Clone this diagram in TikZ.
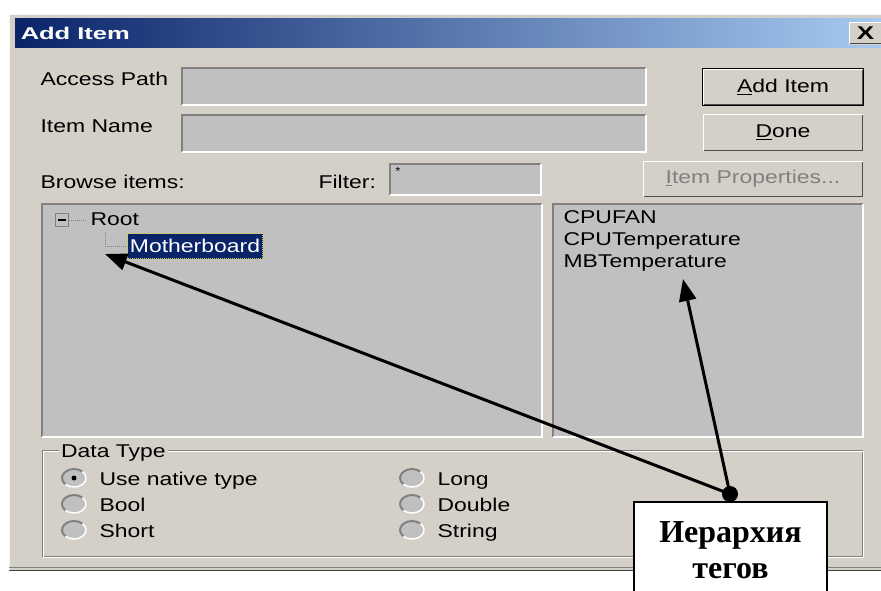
\documentclass[tikz,border=0pt]{standalone}
\usepackage{graphicx}
\usepackage{fontspec}
\setmainfont{Liberation Sans}
\newfontfamily\tagfont{Liberation Serif}
\usetikzlibrary{arrows.meta,shapes.geometric}

\definecolor{winbg}{HTML}{D4D0C8}
\definecolor{fieldgray}{HTML}{C0C0C0}
\definecolor{dkgray}{HTML}{808080}
\definecolor{navy}{HTML}{0A246A}
\definecolor{titleR}{HTML}{A6CAF0}
\newcommand{\wide}[1]{\scalebox{1.24}[1]{#1}}

\begin{document}
\begin{tikzpicture}[x=1pt,y=-1pt,line width=1pt,
  ui/.style={font=\fontsize{18.5}{22}\selectfont,xscale=1.24,inner sep=0pt,anchor=base west},
  field/.style={fill=fieldgray,anchor=north west,inner sep=0pt},
  btn/.style={fill=winbg,anchor=north west,inner sep=0pt,font=\fontsize{18.5}{22}\selectfont},
  radio/.style={ellipse,fill=fieldgray,minimum width=24,minimum height=18,inner sep=0pt},
  sel/.style={fill=navy,draw=yellow!80!black,densely dotted,text=white,anchor=north west,inner sep=0pt,
    font=\fontsize{18.5}{22}\selectfont},
  callout/.style={fill=white,draw=black,line width=1.5pt,anchor=north,minimum width=193,align=center,
    inner ysep=20pt,font=\tagfont\bfseries\fontsize{32}{36}\selectfont},
  arr/.style={line width=3pt,-{Triangle[length=22pt,width=17pt]}}]
  \useasboundingbox (0,0) rectangle (881,590);
  \fill[white] (0,0) rectangle (881,590);

  % window
  \fill[winbg] (9,14) rectangle (881,570);
  \draw[white!85!winbg] (9,570) |- (881,14);
  \draw[dkgray] (9,567.5) -- (881,567.5);
  \draw[black!75,line width=1.5pt] (9,570.5) -- (881,570.5);
  \shade[left color=navy,right color=titleR] (15,18) rectangle (881,47);
  \node[font=\bfseries\fontsize{17}{20}\selectfont,text=white,xscale=1.5,anchor=base west,inner sep=0pt]
    (title) at (20,39) {Add Item};
  \node[btn,minimum width=34,minimum height=23,anchor=north west] (close) at (848,21)
    {\scalebox{1.4}[1]{\textbf{X}}};

  % access path, item name, filter
  \node[ui] (lpath) at (40,85) {Access Path};
  \node[ui] (lname) at (40,132) {Item Name};
  \node[ui] (lbrowse) at (40,188) {Browse items:};
  \node[ui] (lfilter) at (318,188) {Filter:};
  \node[field,minimum width=463,minimum height=36] (path) at (182,68) {};
  \node[field,minimum width=463,minimum height=36] (name) at (182,115) {};
  \node[field,minimum width=150,minimum height=30] (filter) at (390,164) {};
  \node[font=\fontsize{12}{12}\selectfont,anchor=north west,inner sep=0pt] (star) at (395,167) {*};

  % buttons
  \node[btn,draw=black,minimum width=161,minimum height=37] (add) at (702,68) {\wide{\underline{A}dd Item}};
  \node[btn,minimum width=161,minimum height=38] (done) at (702,113) {\wide{\underline{D}one}};
  \node[btn,minimum width=221,minimum height=37,text=dkgray] (props) at (642,160)
    {\wide{\underline{I}tem Properties...}};

  % panes
  \node[field,minimum width=499,minimum height=232] (tree) at (42,204) {};
  \node[field,minimum width=309,minimum height=232] (tags) at (553,204) {};

  \foreach \n in {path,name,filter,tree,tags}{
    \draw[dkgray,line width=2pt] (\n.south west) |- (\n.north east);
    \draw[white,line width=1.5pt] (\n.south west) -| (\n.north east);
  }
  \foreach \n in {add,done,props,close}{
    \draw[white,line width=1.5pt] ([shift={(1.5pt,1.5pt)}]\n.south west) |- ([shift={(-1.5pt,-1.5pt)}]\n.north east);
    \draw[black!70,line width=1.5pt] ([shift={(1.5pt,1.5pt)}]\n.south west) -| ([shift={(-1.5pt,-1.5pt)}]\n.north east);
  }

  % tree
  \node[draw=dkgray,minimum size=13,inner sep=0pt,anchor=north west] (minus) at (55,213) {};
  \draw[line width=1.5pt] ([xshift=3pt]minus.west) -- ([xshift=-3pt]minus.east);
  \node[ui] (root) at (90,225) {Root};
  \draw[dkgray,densely dotted] (minus.east) -- ([xshift=-4pt]root.west |- minus.east);
  \node[sel,minimum width=135,minimum height=25] (mb) at (127,233) {\wide{Motherboard}};
  \draw[dkgray,densely dotted] (105,232) |- (mb.west);

  % tags
  \node[ui] (cpufan) at (563,223) {CPUFAN};
  \node[ui] (cputemp) at (563,245) {CPUTemperature};
  \node[ui] (mbtemp) at (563,267) {MBTemperature};

  % data type
  \draw[dkgray] (42,450) rectangle (862,556);
  \draw[white] (43,451) rectangle (863,557);
  \node[ui,fill=winbg,inner xsep=2pt] (ldata) at (58,457) {Data Type};
  \foreach \n/\x/\y/\t in {native/74/478/Use native type,bool/74/504/Bool,short/74/530/Short,
      long/412/478/Long,double/412/504/Double,string/412/530/String}{
    \node[radio] (r\n) at (\x,\y) {};
    \draw[dkgray,line width=2pt] ([shift={(45:12pt and 9pt)}]r\n.center) arc[start angle=45,end angle=225,x radius=12pt,y radius=9pt];
    \draw[white,line width=1.5pt] ([shift={(225:12pt and 9pt)}]r\n.center) arc[start angle=225,end angle=405,x radius=12pt,y radius=9pt];
    \node[ui] (l\n) at ([xshift=25pt,yshift=-7pt]r\n.center) {\t};
  }
  \fill (rnative) circle (2.5pt);

  % callout
  \node[callout] (box) at (730.5,501) {Иерархия\\тегов};
  \coordinate (mbtip) at (105,254);
  \coordinate (tagtip) at (683,279);
  \node[circle,fill=black,minimum size=16,inner sep=0pt] (dot) at (730,494) {};
  \draw[arr] (dot.center) -- (mbtip);
  \draw[arr] (dot.center) -- (tagtip);
\end{tikzpicture}
\end{document}
